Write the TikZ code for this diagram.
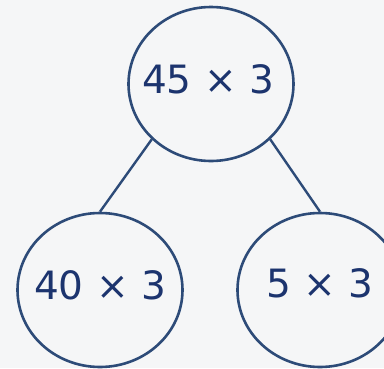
\documentclass[tikz,border=0pt]{standalone}
\usepackage{fontspec}
\setmainfont{DejaVu Sans}
\usetikzlibrary{shapes.geometric}
\definecolor{bgcol}{RGB}{245,246,247}
\definecolor{ringcol}{RGB}{45,75,120}
\definecolor{txtcol}{RGB}{28,52,110}
\begin{document}
\begin{tikzpicture}[x=1pt,y=-1pt,
  bubble/.style={ellipse, draw=ringcol, line width=2.6pt, inner sep=0pt,
    minimum width=165pt, minimum height=154pt},
  sum/.style={text=txtcol, inner sep=0pt, yshift=5pt,
    font=\fontsize{39}{39}\selectfont},
  link/.style={draw=ringcol, line width=2.4pt}]
  \fill[bgcol] (0,0) rectangle (384,368);
  \useasboundingbox (0,0) rectangle (384,368);
  \node[bubble, label={[sum, xshift=-3pt]center:45 × 3}] (top) at (211,84) {};
  \node[bubble, label={[sum]center:40 × 3}] (left) at (100,290) {};
  \node[bubble, label={[sum, yshift=2pt]center:5 × 3}] (right) at (320,290) {};
  \draw[link] (top.south west) -- (left.north);
  \draw[link] (top.south east) -- (right.north);
\end{tikzpicture}
\end{document}
